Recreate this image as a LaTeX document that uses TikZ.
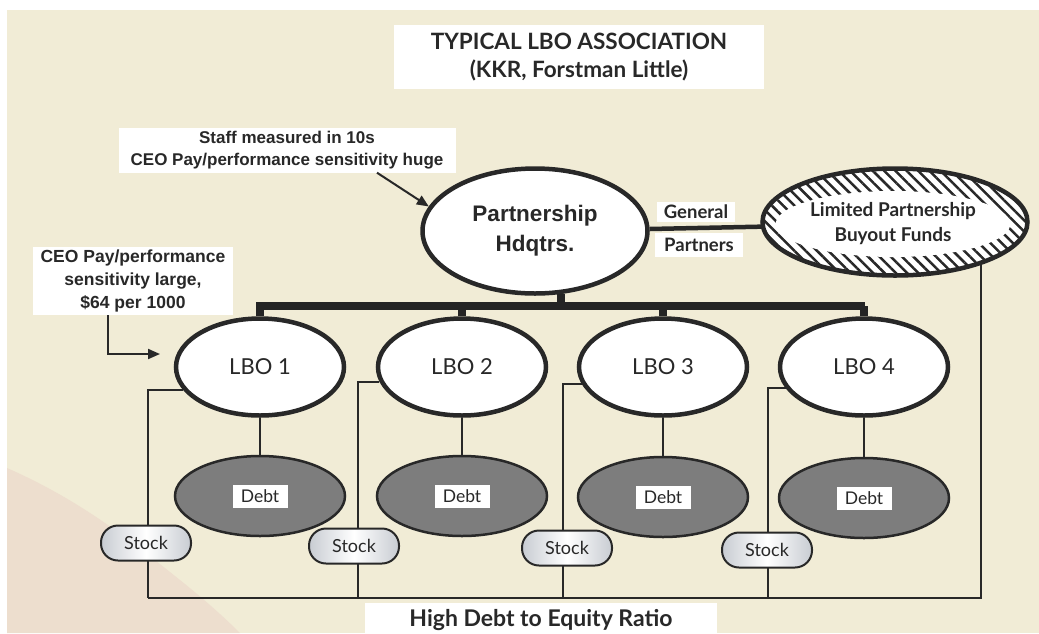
\documentclass[tikz,border=0pt]{standalone}
\usepackage{fontspec}
\setmainfont{Liberation Sans}
\newfontfamily\gill{Lato}
\usetikzlibrary{shapes.geometric,patterns.meta,arrows.meta,calc}
\definecolor{bgbeige}{RGB}{241,236,214}
\definecolor{bgpink}{RGB}{237,222,206}
\definecolor{ink}{RGB}{40,40,40}
\definecolor{debtgray}{RGB}{125,125,125}
\definecolor{pillgray}{RGB}{200,204,210}
\tikzset{
  whitebox/.style={fill=white, inner sep=0pt, align=center, text=ink},
  bigell/.style={ellipse, draw=ink, line width=4.5pt, fill=white, inner sep=0pt, text=ink},
  lboell/.style={ellipse, draw=ink, line width=4.5pt, fill=white, inner sep=0pt,
    minimum width=168pt, minimum height=97pt, text=ink, font=\gill\fontsize{22}{24}\selectfont},
  debtell/.style={ellipse, draw=ink, line width=2.5pt, fill=debtgray, inner sep=0pt,
    minimum width=170pt, minimum height=80pt},
  debtlabel/.style={fill=white, inner sep=0pt, minimum width=55pt, minimum height=23pt,
    text=ink, font=\gill\fontsize{17.5}{19}\selectfont},
  stockpill/.style={draw=ink, line width=2pt, rounded corners=17pt, left color=pillgray,
    right color=pillgray, middle color=white, minimum width=90pt, minimum height=35pt,
    inner sep=0pt, text=ink, font=\gill\fontsize{18}{20}\selectfont},
  thinline/.style={draw=ink, line width=2pt},
  barline/.style={draw=ink!90!black, line width=8pt},
  gpline/.style={draw=ink, line width=4.5pt},
  arrowline/.style={draw=ink, line width=2pt, -{Triangle[length=12pt,width=10pt]}},
}
\begin{document}
\begin{tikzpicture}[x=1pt,y=-1pt]
\useasboundingbox (0,0) rectangle (1039,633);
\fill[white] (0,0) rectangle (1039,633);
\fill[bgbeige] (7,10) rectangle (1039,633);
\fill[bgpink] (7,468) .. controls (80,500) and (130,540) .. (180,580) .. controls (205,600) and (225,618) .. (240,633) -- (7,633) -- cycle;

% title
\node[whitebox, minimum width=370pt, minimum height=64pt,
  font=\gill\bfseries\fontsize{22.5}{28}\selectfont] (title) at (579,57)
  {TYPICAL LBO ASSOCIATION\\(KKR, Forstman Little)};

% callouts
\node[whitebox, minimum width=337pt, minimum height=45pt,
  font=\bfseries\fontsize{17}{22}\selectfont] (staff) at (287,150)
  {Staff measured in 10s\\CEO Pay/performance sensitivity huge};
\node[whitebox, minimum width=200pt, minimum height=68pt,
  font=\bfseries\fontsize{17.5}{23}\selectfont] (ceo) at (133,281)
  {CEO Pay/performance\\sensitivity large,\\\$64 per 1000};

% headquarters and LP
\node[bigell, minimum width=225pt, minimum height=125pt, align=center,
  font=\bfseries\fontsize{22.5}{30}\selectfont] (hq) at (535,231)
  {Partnership\\Hdqtrs.};
\node[ellipse, draw=ink, line width=4.5pt, preaction={fill=white},
  pattern={Lines[angle=-45,distance=8pt,line width=2.5pt]}, pattern color=ink,
  minimum width=265pt, minimum height=107pt] (lp) at (895,222) {};
\node[ellipse, fill=white, minimum width=216pt, minimum height=66pt, inner sep=0pt,
  align=center, text=ink, font=\gill\bfseries\fontsize{19}{25}\selectfont] (lptext) at (893,224)
  {Limited Partnership\\Buyout Funds};

\draw[gpline] (hq.1.5) -- (lp.182);
\node[whitebox, minimum width=78pt, minimum height=20pt,
  font=\gill\bfseries\fontsize{18.5}{20}\selectfont] (gen) at (696,212) {General};
\node[whitebox, minimum width=88pt, minimum height=24pt,
  font=\gill\bfseries\fontsize{18.5}{20}\selectfont] (par) at (699,245) {Partners};

% LBOs
\node[lboell] (l1) at (260,367) {LBO 1};
\node[lboell] (l2) at (462,367) {LBO 2};
\node[lboell] (l3) at (663,367) {LBO 3};
\node[lboell] (l4) at (864,367) {LBO 4};

% bar
\coordinate (barR) at (865,306);
\draw[barline] (hq.292) -- (hq.292 |- barR);
\draw[barline] (l1.north) |- (barR);
\draw[barline] (l2.north) -- (l2.north |- barR);
\draw[barline] (l3.north) -- (l3.north |- barR);
\draw[barline] (l4.north) -- (l4.north |- barR);

% debt
\node[debtell] (d1) at (260,496) {};
\node[debtell] (d2) at (462,496) {};
\node[debtell] (d3) at (663,497) {};
\node[debtell] (d4) at (864,498) {};
\foreach \i in {1,2,3,4} {
  \draw[thinline] (l\i.south) -- (d\i.north);
  \node[debtlabel] (dl\i) at (d\i) {Debt};
}

% stock lines
\coordinate (b1) at (148,598);
\coordinate (b2) at (358,598);
\coordinate (b3) at (563,598);
\coordinate (b4) at (768,598);
\draw[thinline] (l1.197) -| (b1);
\draw[thinline] (l2.190) -| (b2);
\draw[thinline] (l3.192) -| (b3);
\draw[thinline] (l4.195) -| (b4);
\draw[thinline] (lp.334.5) |- (b1);

\node[stockpill] (s1) at (146,543) {Stock};
\node[stockpill] (s2) at (354,546) {Stock};
\node[stockpill] (s3) at (567,548) {Stock};
\node[stockpill] (s4) at (767,550) {Stock};

% arrows
\draw[arrowline] ($(staff.south)+(90,0)$) -- (hq.167);
\coordinate (ceoend) at (160,354);
\draw[arrowline] ($(ceo.south)+(-25,0)$) |- (ceoend);

% bottom label
\node[whitebox, minimum width=352pt, minimum height=34pt, anchor=north,
  font=\gill\bfseries\fontsize{23}{25}\selectfont] (ratio) at (541,603)
  {High Debt to Equity Ratio};
\end{tikzpicture}
\end{document}
